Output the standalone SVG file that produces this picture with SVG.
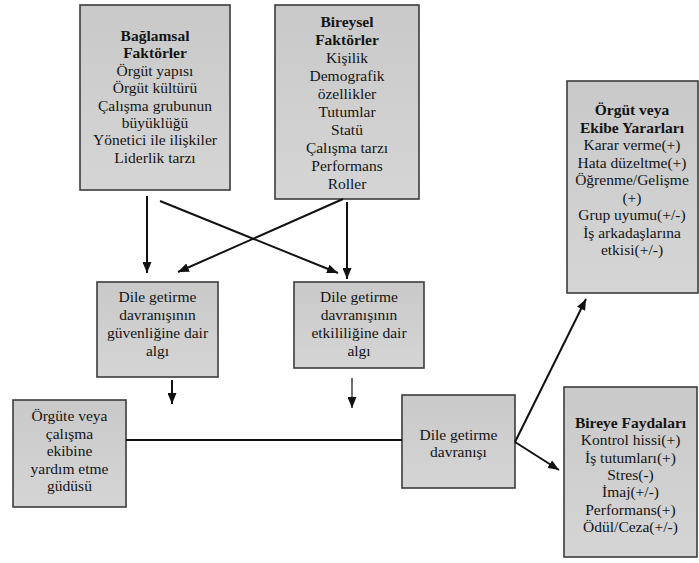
<svg xmlns="http://www.w3.org/2000/svg" width="699" height="563" viewBox="0 0 699 563" font-family="'Liberation Serif', 'Times New Roman', serif">
<defs>
<linearGradient id="g" x1="0" y1="0" x2="0" y2="1">
<stop offset="0" stop-color="#c9c9c9"/>
<stop offset="1" stop-color="#d5d5d5"/>
</linearGradient>
<marker id="ah" markerUnits="userSpaceOnUse" markerWidth="11" markerHeight="9" refX="11" refY="4.5" orient="auto">
<path d="M0,0 L11,4.5 L0,9 Z" fill="#111"/>
</marker>
</defs>
<style>
.box{fill:url(#g);stroke:#3c3c3c;stroke-width:1.6}
text{font-family:"Liberation Serif","Times New Roman",serif;font-size:15.5px;fill:#141414;text-anchor:middle}
.b{font-weight:bold}
.c{stroke:#111;stroke-width:2;fill:none}
.t{stroke:#111;stroke-width:1.2;fill:none}
</style>
<rect width="699" height="563" fill="#fff"/>

<g id="baglamsal">
<rect class="box" x="80" y="5" width="150" height="185"/>
<text x="155" y="41" class="b">Bağlamsal</text>
<text x="155" y="58.4" class="b">Faktörler</text>
<text x="155" y="75.8">Örgüt yapısı</text>
<text x="155" y="93.2">Örgüt kültürü</text>
<text x="155" y="110.6">Çalışma grubunun</text>
<text x="155" y="128">büyüklüğü</text>
<text x="155" y="145.4">Yönetici ile ilişkiler</text>
<text x="155" y="162.8">Liderlik tarzı</text>
</g>

<g id="bireysel">
<rect class="box" x="275" y="5" width="144" height="194"/>
<text x="347" y="27" class="b">Bireysel</text>
<text x="347" y="45" class="b">Faktörler</text>
<text x="347" y="63">Kişilik</text>
<text x="347" y="81">Demografik</text>
<text x="347" y="99">özellikler</text>
<text x="347" y="117">Tutumlar</text>
<text x="347" y="135">Statü</text>
<text x="347" y="153">Çalışma tarzı</text>
<text x="347" y="171">Performans</text>
<text x="347" y="189">Roller</text>
</g>

<g id="orgut-yararlari">
<rect class="box" x="567" y="81" width="131" height="212"/>
<text x="632" y="115" class="b">Örgüt veya</text>
<text x="632" y="132.5" class="b">Ekibe Yararları</text>
<text x="632" y="150">Karar verme(+)</text>
<text x="632" y="167.5">Hata düzeltme(+)</text>
<text x="632" y="185">Öğrenme/Gelişme</text>
<text x="632" y="202.5">(+)</text>
<text x="632" y="220">Grup uyumu(+/-)</text>
<text x="632" y="237.5">İş arkadaşlarına</text>
<text x="632" y="255">etkisi(+/-)</text>
</g>

<g id="bireye-faydalari">
<rect class="box" x="564" y="387" width="133" height="170"/>
<text x="630.5" y="428" class="b">Bireye Faydaları</text>
<text x="630.5" y="445.3">Kontrol hissi(+)</text>
<text x="630.5" y="462.6">İş tutumları(+)</text>
<text x="630.5" y="479.9">Stres(-)</text>
<text x="630.5" y="497.2">İmaj(+/-)</text>
<text x="630.5" y="514.5">Performans(+)</text>
<text x="630.5" y="531.8">Ödül/Ceza(+/-)</text>
</g>

<g id="guvenlik-algisi">
<rect class="box" x="97" y="282" width="121" height="95"/>
<text x="157.5" y="302">Dile getirme</text>
<text x="157.5" y="320">davranışının</text>
<text x="157.5" y="338">güvenliğine dair</text>
<text x="157.5" y="356">algı</text>
</g>

<g id="etkililik-algisi">
<rect class="box" x="294" y="282" width="130" height="86"/>
<text x="359" y="302">Dile getirme</text>
<text x="359" y="320">davranışının</text>
<text x="359" y="338">etkililiğine dair</text>
<text x="359" y="356">algı</text>
</g>

<g id="gudu">
<rect class="box" x="13" y="400" width="113" height="107"/>
<text x="69.5" y="421">Örgüte veya</text>
<text x="69.5" y="438.5">çalışma</text>
<text x="69.5" y="456">ekibine</text>
<text x="69.5" y="473.5">yardım etme</text>
<text x="69.5" y="491">güdüsü</text>
</g>

<g id="davranis">
<rect class="box" x="402" y="395" width="113" height="93"/>
<text x="458.5" y="440">Dile getirme</text>
<text x="458.5" y="457">davranışı</text>
</g>

<g id="connectors">
<line class="c" x1="147" y1="196" x2="147" y2="273" marker-end="url(#ah)"/>
<line class="c" x1="160" y1="201" x2="338" y2="273" marker-end="url(#ah)"/>
<line class="c" x1="343" y1="199" x2="178" y2="272" marker-end="url(#ah)"/>
<line class="c" x1="347" y1="202" x2="347" y2="279" marker-end="url(#ah)"/>
<line class="c" x1="172" y1="380" x2="172" y2="404" marker-end="url(#ah)"/>
<line class="t" x1="352" y1="378" x2="352" y2="408" marker-end="url(#ah)"/>
<line class="c" x1="126" y1="440" x2="402" y2="440"/>
<line class="c" x1="515" y1="442" x2="586" y2="299" marker-end="url(#ah)"/>
<line class="c" x1="515" y1="442" x2="559" y2="470" marker-end="url(#ah)"/>
</g>
</svg>
